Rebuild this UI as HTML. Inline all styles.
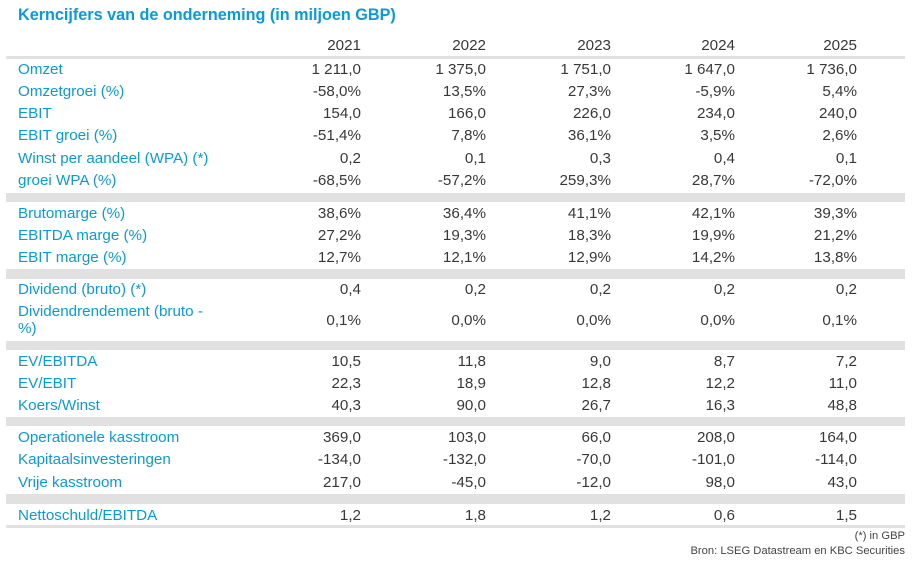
<!DOCTYPE html>
<html><head><meta charset="utf-8"><style>
body{margin:0;width:917px;height:566px;background:#fff;position:relative;overflow:hidden;font-family:"Liberation Sans",Arial,sans-serif;}
.t{position:absolute;left:18px;top:6px;font-size:16.2px;font-weight:bold;color:#0a9ad9;}
.b{position:absolute;left:6px;width:899px;background:#e1e1e1;}
.r{position:absolute;left:0;width:917px;height:20px;font-size:15.2px;line-height:20px;color:#383838;}
.r .l{position:absolute;left:18px;color:#0a9ad9;white-space:nowrap;}
.r span.v{position:absolute;text-align:right;width:110px;}
.v1{left:251px}.v2{left:376px}.v3{left:501px}.v4{left:625px}.v5{left:747px}
.f{position:absolute;right:12px;font-size:11.2px;color:#444;}
</style></head><body>
<div class="t">Kerncijfers van de onderneming (in miljoen GBP)</div>
<div class="r" style="top:36px"><span class="v v1">2021</span><span class="v v2">2022</span><span class="v v3">2023</span><span class="v v4">2024</span><span class="v v5">2025</span></div>
<div class="b" style="top:56px;height:3px"></div>
<div class="r" style="top:60px"><span class="l">Omzet</span><span class="v v1">1 211,0</span><span class="v v2">1 375,0</span><span class="v v3">1 751,0</span><span class="v v4">1 647,0</span><span class="v v5">1 736,0</span></div>
<div class="r" style="top:82px"><span class="l">Omzetgroei (%)</span><span class="v v1">-58,0%</span><span class="v v2">13,5%</span><span class="v v3">27,3%</span><span class="v v4">-5,9%</span><span class="v v5">5,4%</span></div>
<div class="r" style="top:104px"><span class="l">EBIT</span><span class="v v1">154,0</span><span class="v v2">166,0</span><span class="v v3">226,0</span><span class="v v4">234,0</span><span class="v v5">240,0</span></div>
<div class="r" style="top:126px"><span class="l">EBIT groei (%)</span><span class="v v1">-51,4%</span><span class="v v2">7,8%</span><span class="v v3">36,1%</span><span class="v v4">3,5%</span><span class="v v5">2,6%</span></div>
<div class="r" style="top:149px"><span class="l">Winst per aandeel (WPA) (*)</span><span class="v v1">0,2</span><span class="v v2">0,1</span><span class="v v3">0,3</span><span class="v v4">0,4</span><span class="v v5">0,1</span></div>
<div class="r" style="top:171px"><span class="l">groei WPA (%)</span><span class="v v1">-68,5%</span><span class="v v2">-57,2%</span><span class="v v3">259,3%</span><span class="v v4">28,7%</span><span class="v v5">-72,0%</span></div>
<div class="b" style="top:193px;height:9px"></div>
<div class="r" style="top:204px"><span class="l">Brutomarge (%)</span><span class="v v1">38,6%</span><span class="v v2">36,4%</span><span class="v v3">41,1%</span><span class="v v4">42,1%</span><span class="v v5">39,3%</span></div>
<div class="r" style="top:226px"><span class="l">EBITDA marge (%)</span><span class="v v1">27,2%</span><span class="v v2">19,3%</span><span class="v v3">18,3%</span><span class="v v4">19,9%</span><span class="v v5">21,2%</span></div>
<div class="r" style="top:248px"><span class="l">EBIT marge (%)</span><span class="v v1">12,7%</span><span class="v v2">12,1%</span><span class="v v3">12,9%</span><span class="v v4">14,2%</span><span class="v v5">13,8%</span></div>
<div class="b" style="top:269px;height:10px"></div>
<div class="r" style="top:280px"><span class="l">Dividend (bruto) (*)</span><span class="v v1">0,4</span><span class="v v2">0,2</span><span class="v v3">0,2</span><span class="v v4">0,2</span><span class="v v5">0,2</span></div>
<div class="r" style="top:302px"><span class="l">Dividendrendement (bruto -</span></div>
<div class="r" style="top:319px"><span class="l">%)</span></div>
<div class="r" style="top:311px"><span class="v v1">0,1%</span><span class="v v2">0,0%</span><span class="v v3">0,0%</span><span class="v v4">0,0%</span><span class="v v5">0,1%</span></div>
<div class="b" style="top:341px;height:9px"></div>
<div class="r" style="top:352px"><span class="l">EV/EBITDA</span><span class="v v1">10,5</span><span class="v v2">11,8</span><span class="v v3">9,0</span><span class="v v4">8,7</span><span class="v v5">7,2</span></div>
<div class="r" style="top:374px"><span class="l">EV/EBIT</span><span class="v v1">22,3</span><span class="v v2">18,9</span><span class="v v3">12,8</span><span class="v v4">12,2</span><span class="v v5">11,0</span></div>
<div class="r" style="top:396px"><span class="l">Koers/Winst</span><span class="v v1">40,3</span><span class="v v2">90,0</span><span class="v v3">26,7</span><span class="v v4">16,3</span><span class="v v5">48,8</span></div>
<div class="b" style="top:417px;height:9px"></div>
<div class="r" style="top:428px"><span class="l">Operationele kasstroom</span><span class="v v1">369,0</span><span class="v v2">103,0</span><span class="v v3">66,0</span><span class="v v4">208,0</span><span class="v v5">164,0</span></div>
<div class="r" style="top:450px"><span class="l">Kapitaalsinvesteringen</span><span class="v v1">-134,0</span><span class="v v2">-132,0</span><span class="v v3">-70,0</span><span class="v v4">-101,0</span><span class="v v5">-114,0</span></div>
<div class="r" style="top:473px"><span class="l">Vrije kasstroom</span><span class="v v1">217,0</span><span class="v v2">-45,0</span><span class="v v3">-12,0</span><span class="v v4">98,0</span><span class="v v5">43,0</span></div>
<div class="b" style="top:494px;height:10px"></div>
<div class="r" style="top:506px"><span class="l">Nettoschuld/EBITDA</span><span class="v v1">1,2</span><span class="v v2">1,8</span><span class="v v3">1,2</span><span class="v v4">0,6</span><span class="v v5">1,5</span></div>
<div class="b" style="top:525px;height:3px"></div>
<div class="f" style="top:530px">(*) in GBP</div>
<div class="f" style="top:545px">Bron: LSEG Datastream en KBC Securities</div>
</body></html>
